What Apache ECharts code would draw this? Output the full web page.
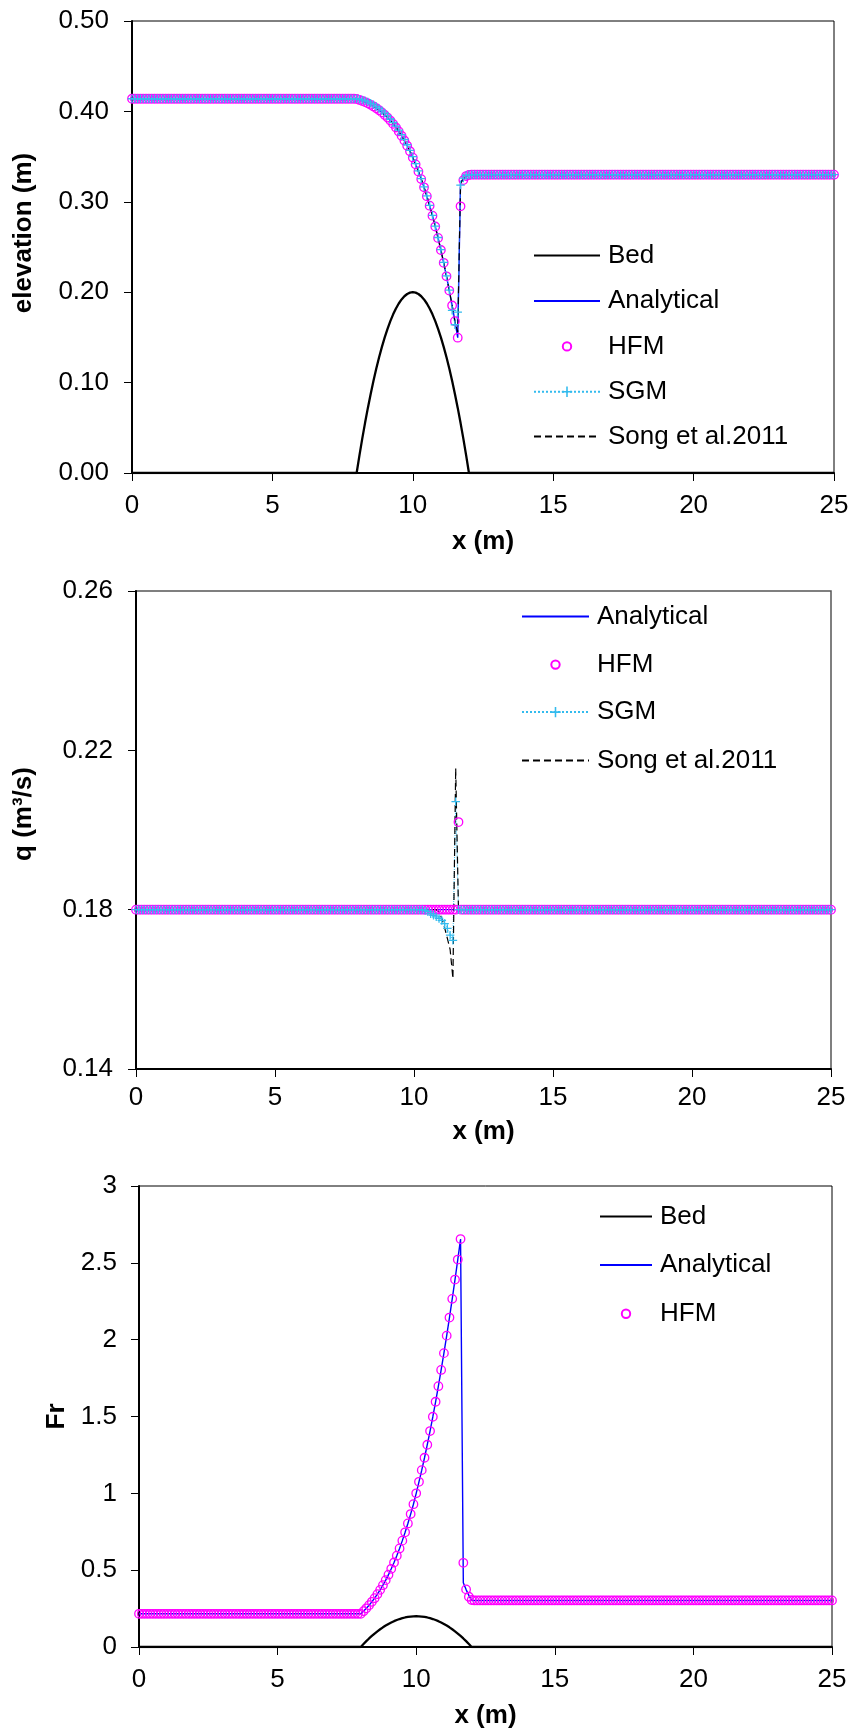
<!DOCTYPE html>
<html>
<head>
<meta charset="utf-8">
<script src="https://cdn.jsdelivr.net/npm/echarts@6/dist/echarts.min.js"></script>
<style>
  html, body { margin: 0; padding: 0; background: #ffffff; }
  #chart { width: 854px; height: 1731px; }
</style>
</head>
<body>
<div id="chart"></div>
<script>
// ---------------------------------------------------------------------------
// Flow over a parabolic bump: water level, discharge and Froude number
// ---------------------------------------------------------------------------

// x axis (m)
const xMin = 0, xMax = 25, xStep = 5;

// sample positions of the numerical solutions: 0 m to 25 m every 0.1 m
const gridX = [];
for (let i = 0; i <= 250; i++) gridX.push(i / 10);

// positions over the bump (8 m to 12 m)
const bumpX = [
  8.0, 8.1, 8.2, 8.3, 8.4, 8.5, 8.6, 8.7, 8.8, 8.9,
  9.0, 9.1, 9.2, 9.3, 9.4, 9.5, 9.6, 9.7, 9.8, 9.9,
  10.0, 10.1, 10.2, 10.3, 10.4, 10.5, 10.6, 10.7, 10.8, 10.9,
  11.0, 11.1, 11.2, 11.3, 11.4, 11.5, 11.6, 11.7, 11.8, 11.9,
  12.0
];

// ---- bed elevation (m) ----
const bedX = [0, ...bumpX, 25];
const bedZ = [
  0,
  0, 0.0195, 0.038, 0.0555, 0.072, 0.0875, 0.102, 0.1155, 0.128, 0.1395,
  0.15, 0.1595, 0.168, 0.1755, 0.182, 0.1875, 0.192, 0.1955, 0.198, 0.1995,
  0.2, 0.1995, 0.198, 0.1955, 0.192, 0.1875, 0.182, 0.1755, 0.168, 0.1595,
  0.15, 0.1395, 0.128, 0.1155, 0.102, 0.0875, 0.072, 0.0555, 0.038, 0.0195,
  0,
  0
];

// ---- water surface elevation (m) ----
const analyticalLevelX = [0, ...bumpX, 25];
const analyticalLevel = [
  0.4138,
  0.4138, 0.4127, 0.4116, 0.4103, 0.4089, 0.4073, 0.4055, 0.4035, 0.4013, 0.3989,
  0.3961, 0.3932, 0.3899, 0.3862, 0.3822, 0.3778, 0.3730, 0.3678, 0.3620, 0.3559,
  0.3489, 0.3414, 0.3336, 0.3251, 0.3160, 0.3062, 0.2957, 0.2846, 0.2727, 0.2600,
  0.2467, 0.2325, 0.2176, 0.2018, 0.1853, 0.1679, 0.1497, 0.3219, 0.3251, 0.3278,
  0.3300,
  0.3300
];
const songLevel = [
  0.4138,
  0.4138, 0.4128, 0.4117, 0.4104, 0.4090, 0.4074, 0.4056, 0.4036, 0.4014, 0.3990,
  0.3962, 0.3933, 0.3900, 0.3863, 0.3823, 0.3779, 0.3731, 0.3679, 0.3621, 0.3560,
  0.3490, 0.3415, 0.3337, 0.3252, 0.3161, 0.3063, 0.2958, 0.2847, 0.2728, 0.2601,
  0.2468, 0.2326, 0.2177, 0.2019, 0.1854, 0.1680, 0.1560, 0.3200, 0.3255, 0.3282,
  0.3300,
  0.3300
];
// upstream reach, x = 0.0 .. 7.9 m
const levelUpstream = [
  0.414, 0.414, 0.414, 0.414, 0.414, 0.414, 0.414, 0.414, 0.414, 0.414,
  0.414, 0.414, 0.414, 0.414, 0.414, 0.414, 0.414, 0.414, 0.414, 0.414,
  0.414, 0.414, 0.414, 0.414, 0.414, 0.414, 0.414, 0.414, 0.414, 0.414,
  0.414, 0.414, 0.414, 0.414, 0.414, 0.414, 0.414, 0.414, 0.414, 0.414,
  0.414, 0.414, 0.414, 0.414, 0.414, 0.414, 0.414, 0.414, 0.414, 0.414,
  0.414, 0.414, 0.414, 0.414, 0.414, 0.414, 0.414, 0.414, 0.414, 0.414,
  0.414, 0.414, 0.414, 0.414, 0.414, 0.414, 0.414, 0.414, 0.414, 0.414,
  0.414, 0.414, 0.414, 0.414, 0.414, 0.414, 0.414, 0.414, 0.414, 0.414
];
// over the bump, x = 8.0 .. 12.0 m
const hfmLevelBump = [
  0.4138, 0.4127, 0.4116, 0.4103, 0.4089, 0.4073, 0.4055, 0.4035, 0.4013, 0.3989,
  0.3961, 0.3932, 0.3899, 0.3862, 0.3822, 0.3778, 0.3730, 0.3678, 0.3620, 0.3559,
  0.3489, 0.3414, 0.3336, 0.3251, 0.3160, 0.3062, 0.2957, 0.2846, 0.2727, 0.2600,
  0.2467, 0.2325, 0.2176, 0.2018, 0.1853, 0.1679, 0.1497, 0.2950, 0.3240, 0.3285,
  0.3297
];
const sgmLevelBump = [
  0.4140, 0.4135, 0.4127, 0.4117, 0.4105, 0.4090, 0.4073, 0.4054, 0.4032, 0.4007,
  0.3980, 0.3950, 0.3916, 0.3879, 0.3838, 0.3793, 0.3744, 0.3690, 0.3631, 0.3568,
  0.3499, 0.3423, 0.3342, 0.3256, 0.3164, 0.3066, 0.2961, 0.2850, 0.2731, 0.2605,
  0.2471, 0.2329, 0.2180, 0.2023, 0.1800, 0.1640, 0.1780, 0.3185, 0.3262, 0.3290,
  0.3298
];
// downstream reach, x = 12.1 .. 25.0 m
const levelDownstream = [
  0.33, 0.33, 0.33, 0.33, 0.33, 0.33, 0.33, 0.33, 0.33, 0.33,
  0.33, 0.33, 0.33, 0.33, 0.33, 0.33, 0.33, 0.33, 0.33, 0.33,
  0.33, 0.33, 0.33, 0.33, 0.33, 0.33, 0.33, 0.33, 0.33, 0.33,
  0.33, 0.33, 0.33, 0.33, 0.33, 0.33, 0.33, 0.33, 0.33, 0.33,
  0.33, 0.33, 0.33, 0.33, 0.33, 0.33, 0.33, 0.33, 0.33, 0.33,
  0.33, 0.33, 0.33, 0.33, 0.33, 0.33, 0.33, 0.33, 0.33, 0.33,
  0.33, 0.33, 0.33, 0.33, 0.33, 0.33, 0.33, 0.33, 0.33, 0.33,
  0.33, 0.33, 0.33, 0.33, 0.33, 0.33, 0.33, 0.33, 0.33, 0.33,
  0.33, 0.33, 0.33, 0.33, 0.33, 0.33, 0.33, 0.33, 0.33, 0.33,
  0.33, 0.33, 0.33, 0.33, 0.33, 0.33, 0.33, 0.33, 0.33, 0.33,
  0.33, 0.33, 0.33, 0.33, 0.33, 0.33, 0.33, 0.33, 0.33, 0.33,
  0.33, 0.33, 0.33, 0.33, 0.33, 0.33, 0.33, 0.33, 0.33, 0.33,
  0.33, 0.33, 0.33, 0.33, 0.33, 0.33, 0.33, 0.33, 0.33, 0.33
];
const hfmLevel = [...levelUpstream, ...hfmLevelBump, ...levelDownstream];
const sgmLevel = [...levelUpstream, ...sgmLevelBump, ...levelDownstream];

// ---- unit discharge q (m3/s) ----
const analyticalQX = [0, 25];
const analyticalQ = [0.18, 0.18];
const songQX = [0, 10.8, 10.9, 11.0, 11.1, 11.2, 11.3, 11.4, 11.5, 11.6, 25];
const songQ = [0.18, 0.18, 0.1795, 0.1778, 0.1755, 0.1728, 0.1700, 0.1627, 0.2155, 0.18, 0.18];
// x = 0.0 .. 9.9 m
const qUpstream = [
  0.18, 0.18, 0.18, 0.18, 0.18, 0.18, 0.18, 0.18, 0.18, 0.18,
  0.18, 0.18, 0.18, 0.18, 0.18, 0.18, 0.18, 0.18, 0.18, 0.18,
  0.18, 0.18, 0.18, 0.18, 0.18, 0.18, 0.18, 0.18, 0.18, 0.18,
  0.18, 0.18, 0.18, 0.18, 0.18, 0.18, 0.18, 0.18, 0.18, 0.18,
  0.18, 0.18, 0.18, 0.18, 0.18, 0.18, 0.18, 0.18, 0.18, 0.18,
  0.18, 0.18, 0.18, 0.18, 0.18, 0.18, 0.18, 0.18, 0.18, 0.18,
  0.18, 0.18, 0.18, 0.18, 0.18, 0.18, 0.18, 0.18, 0.18, 0.18,
  0.18, 0.18, 0.18, 0.18, 0.18, 0.18, 0.18, 0.18, 0.18, 0.18,
  0.18, 0.18, 0.18, 0.18, 0.18, 0.18, 0.18, 0.18, 0.18, 0.18,
  0.18, 0.18, 0.18, 0.18, 0.18, 0.18, 0.18, 0.18, 0.18, 0.18
];
// x = 10.0 .. 12.0 m
const hfmQBump = [
  0.18, 0.18, 0.18, 0.18, 0.18, 0.18, 0.18, 0.18, 0.18, 0.18,
  0.18, 0.18, 0.18, 0.18, 0.18, 0.18, 0.2020, 0.18, 0.18, 0.18,
  0.18
];
const sgmQBump = [
  0.18, 0.18, 0.18, 0.18, 0.1798, 0.1795, 0.1790, 0.1786, 0.1782, 0.1778,
  0.1773, 0.1765, 0.1753, 0.1736, 0.1723, 0.2071, 0.18, 0.18, 0.18, 0.18,
  0.18
];
// x = 12.1 .. 25.0 m
const qDownstream = [
  0.18, 0.18, 0.18, 0.18, 0.18, 0.18, 0.18, 0.18, 0.18, 0.18,
  0.18, 0.18, 0.18, 0.18, 0.18, 0.18, 0.18, 0.18, 0.18, 0.18,
  0.18, 0.18, 0.18, 0.18, 0.18, 0.18, 0.18, 0.18, 0.18, 0.18,
  0.18, 0.18, 0.18, 0.18, 0.18, 0.18, 0.18, 0.18, 0.18, 0.18,
  0.18, 0.18, 0.18, 0.18, 0.18, 0.18, 0.18, 0.18, 0.18, 0.18,
  0.18, 0.18, 0.18, 0.18, 0.18, 0.18, 0.18, 0.18, 0.18, 0.18,
  0.18, 0.18, 0.18, 0.18, 0.18, 0.18, 0.18, 0.18, 0.18, 0.18,
  0.18, 0.18, 0.18, 0.18, 0.18, 0.18, 0.18, 0.18, 0.18, 0.18,
  0.18, 0.18, 0.18, 0.18, 0.18, 0.18, 0.18, 0.18, 0.18, 0.18,
  0.18, 0.18, 0.18, 0.18, 0.18, 0.18, 0.18, 0.18, 0.18, 0.18,
  0.18, 0.18, 0.18, 0.18, 0.18, 0.18, 0.18, 0.18, 0.18, 0.18,
  0.18, 0.18, 0.18, 0.18, 0.18, 0.18, 0.18, 0.18, 0.18, 0.18,
  0.18, 0.18, 0.18, 0.18, 0.18, 0.18, 0.18, 0.18, 0.18, 0.18
];
const hfmQ = [...qUpstream, ...hfmQBump, ...qDownstream];
const sgmQ = [...qUpstream, ...sgmQBump, ...qDownstream];

// ---- Froude number ----
const analyticalFrX = [0, ...bumpX, 25];
const analyticalFr = [
  0.2159,
  0.2159, 0.2331, 0.2517, 0.2719, 0.2939, 0.3178, 0.3437, 0.3718, 0.4022, 0.4351,
  0.4706, 0.5088, 0.5499, 0.5941, 0.6415, 0.6922, 0.7463, 0.8039, 0.8650, 0.9292,
  1.0000, 1.0748, 1.1510, 1.2315, 1.3163, 1.4053, 1.4984, 1.5959, 1.6971, 1.8028,
  1.9124, 2.0261, 2.1438, 2.2656, 2.3913, 2.5214, 2.6549, 0.4180, 0.3735, 0.3357,
  0.3030,
  0.3030
];
// x = 0.0 .. 7.9 m
const frUpstream = [
  0.216, 0.216, 0.216, 0.216, 0.216, 0.216, 0.216, 0.216, 0.216, 0.216,
  0.216, 0.216, 0.216, 0.216, 0.216, 0.216, 0.216, 0.216, 0.216, 0.216,
  0.216, 0.216, 0.216, 0.216, 0.216, 0.216, 0.216, 0.216, 0.216, 0.216,
  0.216, 0.216, 0.216, 0.216, 0.216, 0.216, 0.216, 0.216, 0.216, 0.216,
  0.216, 0.216, 0.216, 0.216, 0.216, 0.216, 0.216, 0.216, 0.216, 0.216,
  0.216, 0.216, 0.216, 0.216, 0.216, 0.216, 0.216, 0.216, 0.216, 0.216,
  0.216, 0.216, 0.216, 0.216, 0.216, 0.216, 0.216, 0.216, 0.216, 0.216,
  0.216, 0.216, 0.216, 0.216, 0.216, 0.216, 0.216, 0.216, 0.216, 0.216
];
// x = 8.0 .. 12.0 m
const hfmFrBump = [
  0.2160, 0.2331, 0.2517, 0.2719, 0.2939, 0.3178, 0.3437, 0.3718, 0.4022, 0.4351,
  0.4706, 0.5088, 0.5499, 0.5941, 0.6415, 0.6922, 0.7463, 0.8039, 0.8650, 0.9292,
  1.0000, 1.0748, 1.1510, 1.2315, 1.3163, 1.4053, 1.4984, 1.5959, 1.6971, 1.8028,
  1.9124, 2.0261, 2.1438, 2.2656, 2.3913, 2.5214, 2.6549, 0.5480, 0.3750, 0.3270,
  0.3060
];
// x = 12.1 .. 25.0 m
const frDownstream = [
  0.303, 0.303, 0.303, 0.303, 0.303, 0.303, 0.303, 0.303, 0.303, 0.303,
  0.303, 0.303, 0.303, 0.303, 0.303, 0.303, 0.303, 0.303, 0.303, 0.303,
  0.303, 0.303, 0.303, 0.303, 0.303, 0.303, 0.303, 0.303, 0.303, 0.303,
  0.303, 0.303, 0.303, 0.303, 0.303, 0.303, 0.303, 0.303, 0.303, 0.303,
  0.303, 0.303, 0.303, 0.303, 0.303, 0.303, 0.303, 0.303, 0.303, 0.303,
  0.303, 0.303, 0.303, 0.303, 0.303, 0.303, 0.303, 0.303, 0.303, 0.303,
  0.303, 0.303, 0.303, 0.303, 0.303, 0.303, 0.303, 0.303, 0.303, 0.303,
  0.303, 0.303, 0.303, 0.303, 0.303, 0.303, 0.303, 0.303, 0.303, 0.303,
  0.303, 0.303, 0.303, 0.303, 0.303, 0.303, 0.303, 0.303, 0.303, 0.303,
  0.303, 0.303, 0.303, 0.303, 0.303, 0.303, 0.303, 0.303, 0.303, 0.303,
  0.303, 0.303, 0.303, 0.303, 0.303, 0.303, 0.303, 0.303, 0.303, 0.303,
  0.303, 0.303, 0.303, 0.303, 0.303, 0.303, 0.303, 0.303, 0.303, 0.303,
  0.303, 0.303, 0.303, 0.303, 0.303, 0.303, 0.303, 0.303, 0.303, 0.303
];
const hfmFr = [...frUpstream, ...hfmFrBump, ...frDownstream];

// ---- axis ranges and titles ----
const levelAxis = { min: 0, max: 0.5, step: 0.1, title: 'elevation (m)' };
const qAxis = { min: 0.14, max: 0.26, step: 0.04, title: 'q (m\u00B3/s)' };
const frAxis = { min: 0, max: 3, step: 0.5, title: 'Fr' };
const xTitle = 'x (m)';

// ---------------------------------------------------------------------------
// styling
// ---------------------------------------------------------------------------
const FONT = '"Liberation Sans", Arial, Helvetica, sans-serif';
const LABEL = { fontFamily: FONT, fontSize: 26, color: '#000', lineHeight: 26 };
const TITLE = { fontFamily: FONT, fontSize: 26, fontWeight: 'bold', color: '#000', lineHeight: 26 };

const C_BED = '#000000';
const C_ANA = '#0000ff';
const C_HFM = '#ff00ff';
const C_SGM = '#33bbee';
const C_SONG = '#000000';
const PLUS = 'path://M4.25,0H5.75V4.25H10V5.75H5.75V10H4.25V5.75H0V4.25H4.25Z';

function pairs(xs, ys) { return xs.map((x, i) => [x, ys[i]]); }

function xAxis(gridIndex, labelMargin, nameGap) {
  return {
    type: 'value', gridIndex, min: xMin, max: xMax, interval: xStep,
    name: xTitle, nameLocation: 'middle', nameGap, nameTextStyle: TITLE,
    axisLine: { onZero: false, lineStyle: { color: '#000', width: 2 } },
    axisTick: { show: true, inside: false, length: 8, lineStyle: { color: '#000', width: 1 } },
    axisLabel: Object.assign({ margin: labelMargin }, LABEL),
    splitLine: { show: false }
  };
}

function yAxis(gridIndex, ax, labelMargin, nameGap, shift, fmt) {
  return {
    type: 'value', gridIndex, min: ax.min, max: ax.max, interval: ax.step,
    name: ax.title, nameLocation: 'middle', nameGap,
    nameTextStyle: Object.assign({ padding: [0, 0, 0, shift] }, TITLE),
    axisLine: { onZero: false, lineStyle: { color: '#000', width: 2 } },
    axisTick: { show: true, inside: false, length: 8, lineStyle: { color: '#000', width: 1 } },
    axisLabel: Object.assign({ margin: labelMargin, formatter: fmt }, LABEL),
    splitLine: { show: false }
  };
}

function bedSeries(i, xs, ys) {
  return { name: 'Bed', type: 'line', xAxisIndex: i, yAxisIndex: i, data: pairs(xs, ys),
    symbol: 'none', lineStyle: { color: C_BED, width: 2.3 }, itemStyle: { color: C_BED } };
}
function anaSeries(i, xs, ys) {
  return { name: 'Analytical', type: 'line', xAxisIndex: i, yAxisIndex: i, data: pairs(xs, ys),
    symbol: 'none', lineStyle: { color: C_ANA, width: 1.4 }, itemStyle: { color: C_ANA } };
}
// markers only: the connecting line is kept invisible
function hfmSeries(i, xs, ys) {
  return { name: 'HFM', type: 'line', xAxisIndex: i, yAxisIndex: i, data: pairs(xs, ys),
    symbol: 'circle', symbolSize: 8.5, showSymbol: true,
    lineStyle: { color: C_HFM, width: 1, opacity: 0 },
    itemStyle: { color: 'rgba(255,255,255,0)', borderColor: C_HFM, borderWidth: 1.3 } };
}
function sgmSeries(i, xs, ys) {
  return { name: 'SGM', type: 'line', xAxisIndex: i, yAxisIndex: i, data: pairs(xs, ys),
    symbol: PLUS, symbolSize: 8.5, showSymbol: true,
    lineStyle: { color: C_SGM, width: 1, type: 'dotted' }, itemStyle: { color: C_SGM } };
}
function songSeries(i, xs, ys) {
  return { name: 'Song et al.2011', type: 'line', xAxisIndex: i, yAxisIndex: i, data: pairs(xs, ys),
    symbol: 'none', lineStyle: { color: C_SONG, width: 1.2, type: [7, 4] }, itemStyle: { color: C_SONG } };
}

// one legend row per entry
function legendRow(name, left, centerY, iconW, iconH, itemStyle) {
  const row = {
    show: true, data: [name], orient: 'vertical', left, top: centerY - 13, padding: 0,
    itemWidth: iconW, itemHeight: iconH, selectedMode: false,
    textStyle: Object.assign({ padding: [0, 0, 0, 3] }, LABEL)
  };
  if (itemStyle) row.itemStyle = itemStyle;
  return row;
}
const NO_MARK = { opacity: 0 };

const two = v => v.toFixed(2);
const plain = v => String(+v.toFixed(1));

const option = {
  animation: false,
  backgroundColor: '#ffffff',
  grid: [
    { left: 132, top: 21, width: 702, height: 452, show: true, borderColor: '#000', borderWidth: 1 },
    { left: 136, top: 591, width: 695, height: 478, show: true, borderColor: '#555', borderWidth: 1.5 },
    { left: 139, top: 1186, width: 693, height: 461, show: true, borderColor: '#000', borderWidth: 1 }
  ],
  xAxis: [
    xAxis(0, 20, 56),
    xAxis(1, 16, 50),
    xAxis(2, 20, 56)
  ],
  yAxis: [
    yAxis(0, levelAxis, 23, 95, 28, two),
    yAxis(1, qAxis, 23, 99, 32, two),
    yAxis(2, frAxis, 22, 69, 0, plain)
  ],
  legend: [
    legendRow('Bed', 533, 255.4, 66, 12, NO_MARK),
    legendRow('Analytical', 533, 301.1, 66, 12, NO_MARK),
    legendRow('HFM', 533, 346.4, 66, 10.5),
    legendRow('SGM', 533, 391.8, 66, 13),
    legendRow('Song et al.2011', 533, 436.4, 66, 12, NO_MARK),

    legendRow('Analytical', 521, 616.4, 67, 12, NO_MARK),
    legendRow('HFM', 521, 664.6, 67, 10.5),
    legendRow('SGM', 521, 712.1, 67, 13),
    legendRow('Song et al.2011', 521, 760.4, 67, 12, NO_MARK),

    legendRow('Bed', 599, 1216.4, 52, 12, NO_MARK),
    legendRow('Analytical', 599, 1264.9, 52, 12, NO_MARK),
    legendRow('HFM', 599, 1313.7, 52, 10.5)
  ],
  series: [
    // water surface elevation
    bedSeries(0, bedX, bedZ),
    anaSeries(0, analyticalLevelX, analyticalLevel),
    hfmSeries(0, gridX, hfmLevel),
    sgmSeries(0, gridX, sgmLevel),
    songSeries(0, analyticalLevelX, songLevel),
    // unit discharge
    anaSeries(1, analyticalQX, analyticalQ),
    hfmSeries(1, gridX, hfmQ),
    sgmSeries(1, gridX, sgmQ),
    songSeries(1, songQX, songQ),
    // Froude number
    bedSeries(2, bedX, bedZ),
    anaSeries(2, analyticalFrX, analyticalFr),
    hfmSeries(2, gridX, hfmFr)
  ]
};

const chart = echarts.init(document.getElementById('chart'), null, { renderer: 'canvas' });
chart.setOption(option);
</script>
</body>
</html>
